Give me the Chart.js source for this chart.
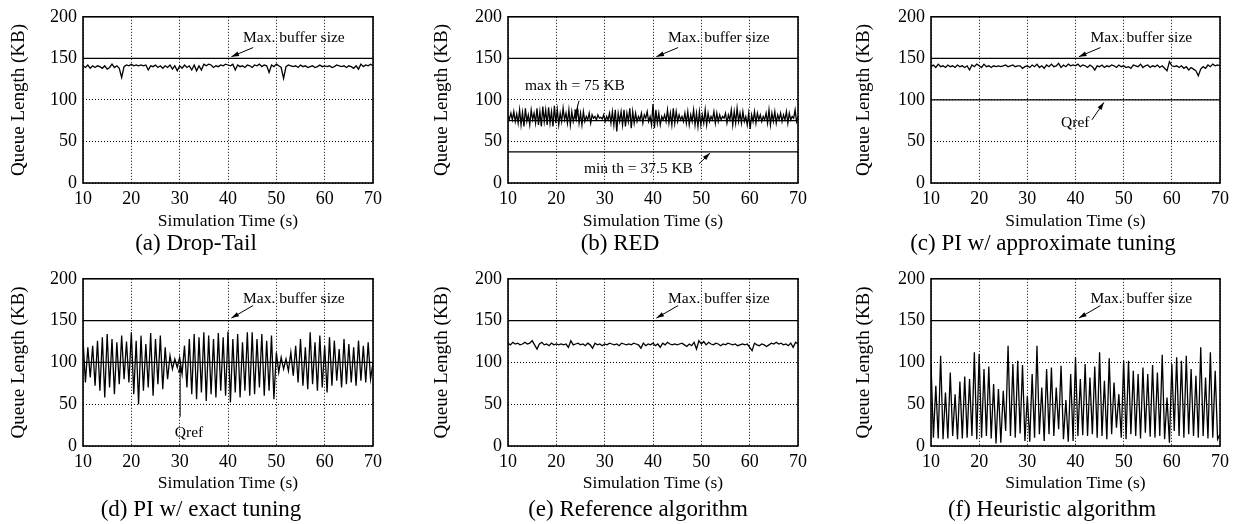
<!DOCTYPE html>
<html>
<head>
<meta charset="utf-8">
<script src="https://cdn.jsdelivr.net/npm/chart.js@4.4.1/dist/chart.umd.min.js"></script>
<style>
  html, body { margin: 0; padding: 0; background: #fff; }
  #fig { position: relative; width: 1237px; height: 524px; overflow: hidden; background: #fff; }
  #fig canvas { position: absolute; }
  .caption {
    position: absolute; transform: translate(-50%, -50%); white-space: nowrap;
    font-family: "Liberation Serif", "Times New Roman", serif; font-size: 23px; color: #000;
  }
</style>
</head>
<body>
<div id="fig"></div>
<script>
// Queue length over simulation time for six queue management schemes.
const TIME_START = 10;
const TIME_END = 70;
const STEP = 0.5;      // sample spacing (s) for most traces
const RED_STEP = 0.3;  // RED trace is sampled more finely

const X_TICKS = [10, 20, 30, 40, 50, 60, 70];
const Y_TICKS = [0, 50, 100, 150, 200];

const MAX_BUFFER = 150;
const QREF = 100;
const MAX_TH = 75;
const MIN_TH = 37.5;

// (a) Drop-Tail, KB
const dropTailQueue = [
  141, 139, 142, 138, 141, 139, 141, 140, 138, 141,
  137, 139, 143, 139, 141, 138, 127, 140, 142, 141,
  143, 141, 142, 141, 142, 141, 142, 136, 141, 140,
  142, 139, 141, 138, 141, 139, 142, 137, 141, 135,
  141, 138, 142, 139, 141, 136, 142, 135, 141, 136,
  143, 141, 143, 142, 139, 141, 140, 142, 141, 143,
  142, 141, 143, 136, 142, 140, 141, 139, 142, 141,
  139, 142, 141, 143, 140, 142, 141, 133, 142, 140,
  143, 141, 139, 126, 140, 142, 141, 140, 141, 139,
  142, 140, 141, 139, 140, 141, 139, 140, 142, 140,
  141, 140, 141, 139, 140, 142, 141, 140, 141, 139,
  141, 140, 138, 141, 137, 143, 140, 142, 141, 143,
  141
];

// (b) RED, KB
const redQueue = [
  80, 77, 84, 76, 86, 74, 83, 72, 88, 70,
  85, 68, 90, 74, 82, 70, 88, 76, 84, 72,
  90, 70, 86, 68, 92, 74, 88, 70, 91, 72,
  86, 68, 93, 72, 88, 70, 84, 74, 90, 76,
  84, 72, 88, 70, 86, 74, 82, 76, 89, 72,
  84, 70, 86, 74, 80, 76, 84, 72, 82, 78,
  80, 76, 82, 78, 79, 77, 82, 74, 80, 76,
  84, 72, 86, 70, 88, 62, 84, 74, 86, 70,
  88, 68, 84, 74, 90, 66, 86, 72, 84, 74,
  80, 76, 84, 72, 82, 78, 86, 74, 80, 70,
  95, 66, 88, 72, 84, 70, 80, 76, 82, 74,
  88, 72, 84, 70, 90, 72, 86, 74, 82, 76,
  80, 74, 84, 72, 86, 70, 82, 74, 88, 70,
  84, 68, 86, 70, 82, 72, 88, 70, 84, 74,
  80, 76, 86, 72, 84, 74, 82, 76, 80, 78,
  84, 72, 82, 76, 88, 70, 86, 72, 90, 74,
  84, 72, 86, 74, 80, 70, 84, 65, 82, 74,
  86, 72, 84, 76, 82, 74, 80, 76, 84, 72,
  88, 70, 84, 74, 86, 72, 82, 76, 84, 74,
  82, 76, 86, 72, 84, 76, 80, 78, 88, 74,
  80
];

// (c) PI with approximate tuning, KB
const piApproxQueue = [
  140, 142, 139, 143, 140, 141, 139, 142, 140, 141,
  139, 142, 140, 141, 139, 141, 136, 142, 140, 143,
  141, 139, 143, 140, 141, 139, 141, 140, 141, 140,
  141, 142, 140, 141, 142, 140, 141, 141, 138, 140,
  141, 139, 142, 140, 143, 139, 141, 138, 142, 140,
  143, 140, 141, 144, 139, 142, 140, 143, 141, 142,
  141, 143, 140, 142, 141, 139, 142, 140, 136, 141,
  140, 142, 139, 141, 140, 142, 141, 139, 142, 140,
  141, 139, 140, 138, 142, 141, 140, 143, 139, 141,
  142, 139, 141, 140, 142, 139, 141, 138, 135, 146,
  141, 140, 141, 139, 141, 138, 140, 136, 139, 137,
  135, 129, 137, 140, 138, 142, 140, 143, 141, 142,
  141
];

// (d) PI with exact tuning, KB
const piExactQueue = [
  128, 76, 118, 82, 120, 72, 126, 66, 130, 58,
  134, 70, 128, 62, 124, 74, 132, 80, 125, 76,
  136, 62, 126, 50, 132, 66, 122, 70, 135, 60,
  128, 74, 132, 68, 118, 80, 108, 92, 104, 94,
  106, 86, 120, 70, 128, 62, 134, 56, 130, 64,
  136, 54, 132, 62, 128, 58, 135, 66, 130, 60,
  137, 52, 128, 64, 134, 58, 124, 66, 136, 60,
  136, 62, 128, 70, 134, 60, 126, 66, 132, 56,
  112, 88, 106, 92, 104, 90, 112, 84, 120, 76,
  128, 72, 118, 68, 136, 74, 124, 66, 132, 70,
  120, 64, 130, 72, 126, 78, 116, 70, 128, 74,
  122, 76, 118, 72, 126, 78, 120, 76, 124, 80,
  100
];

// (e) Reference algorithm, KB
const referenceQueue = [
  123, 121, 124, 122, 123, 121, 122, 124, 122, 123,
  126, 121, 116, 122, 124, 121, 122, 120, 123, 121,
  122, 121, 122, 121, 122, 118, 126, 121, 122, 123,
  121, 122, 120, 123, 121, 117, 123, 121, 122, 120,
  122, 121, 123, 122, 121, 122, 120, 123, 122, 121,
  122, 121, 123, 122, 121, 117, 123, 120, 122, 121,
  123, 120, 122, 118, 123, 121, 124, 122, 121, 122,
  121, 122, 123, 121, 119, 122, 120, 124, 116, 126,
  122, 125, 121, 124, 122, 121, 123, 122, 120, 122,
  121, 123, 122, 121, 122, 120, 121, 122, 121, 122,
  118, 114, 123, 121, 120, 122, 121, 119, 121, 123,
  122, 124, 122, 123, 121, 122, 120, 123, 118, 124,
  122
];

// (f) Heuristic algorithm, KB
const heuristicQueue = [
  99, 10, 72, 9, 108, 8, 64, 9, 88, 12,
  62, 8, 77, 9, 83, 10, 80, 12, 112, 8,
  110, 10, 92, 12, 95, 9, 74, 3, 68, 4,
  66, 18, 120, 12, 98, 10, 102, 15, 97, 6,
  60, 5, 86, 10, 120, 14, 70, 6, 92, 14,
  94, 12, 70, 20, 96, 8, 55, 5, 86, 6,
  106, 12, 80, 13, 98, 12, 82, 14, 95, 10,
  112, 12, 78, 8, 105, 14, 76, 22, 62, 10,
  102, 8, 102, 14, 90, 12, 86, 9, 94, 16,
  86, 11, 97, 10, 88, 12, 109, 8, 58, 4,
  98, 18, 106, 12, 102, 10, 108, 14, 92, 12,
  84, 10, 118, 12, 82, 9, 112, 10, 90, 8,
  14
];

const SERIF = '"Liberation Serif", "Times New Roman", serif';
const INK = "#000";
const TICK_SIZE = 18;
const X_TITLE_SIZE = 17.5;
const Y_TITLE_SIZE = 19;
const NOTE_SIZE = 15.5;
const X_TITLE = "Simulation Time (s)";
const Y_TITLE = "Queue Length (KB)";
const CELL_H = 262;

function trace(values, step) {
  return values.map((v, i) => ({ x: TIME_START + i * step, y: v }));
}

function level(v) {
  return [{ x: TIME_START, y: v }, { x: TIME_END, y: v }];
}

const maxNote = { text: "Max. buffer size", x: 43.1, y: 175 };
const maxArrow = { from: [45.2, 163], to: [40.7, 152] };

// plot: [left, top, right, bottom] of the framed area, page px
const panels = [
  {
    cell: [0, 0, 412], plot: [83, 10, 373, 183], yTitleX: 19, xTitleY: 221,
    caption: "(a) Drop-Tail", capX: 196, capY: 243,
    traces: [trace(dropTailQueue, STEP)], levels: [MAX_BUFFER],
    labels: [maxNote], arrows: [maxArrow],
  },
  {
    cell: [412, 0, 412], plot: [508, 10, 798, 183], yTitleX: 442, xTitleY: 221,
    caption: "(b) RED", capX: 620, capY: 243,
    traces: [trace(redQueue, RED_STEP)], levels: [MAX_BUFFER, MAX_TH, MIN_TH],
    labels: [maxNote, { text: "max th = 75 KB", x: 13.5, y: 116.8 }, { text: "min th = 37.5 KB", x: 25.7, y: 17.3 }],
    arrows: [maxArrow, { from: [24.7, 99], to: [23.8, 79] }, { from: [49.5, 23], to: [51.8, 36] }],
  },
  {
    cell: [824, 0, 413], plot: [931, 10, 1220, 183], yTitleX: 864, xTitleY: 221,
    caption: "(c) PI w/ approximate tuning", capX: 1043, capY: 243,
    traces: [trace(piApproxQueue, STEP)], levels: [MAX_BUFFER, QREF],
    labels: [maxNote, { text: "Qref", x: 37.0, y: 72.8 }],
    arrows: [maxArrow, { from: [43.4, 76], to: [45.9, 97] }],
  },
  {
    cell: [0, 262, 412], plot: [83, 275, 373, 446], yTitleX: 19, xTitleY: 483,
    caption: "(d) PI w/ exact tuning", capX: 201, capY: 509,
    traces: [trace(piExactQueue, STEP)], levels: [MAX_BUFFER, QREF],
    labels: [{ ...maxNote, y: 176.5 }, { text: "Qref", x: 29.0, y: 15.2 }],
    arrows: [{ from: [45.2, 168], to: [40.7, 153] }, { from: [30.1, 35], to: [30.1, 97] }],
  },
  {
    cell: [412, 262, 412], plot: [508, 275, 798, 446], yTitleX: 442, xTitleY: 483,
    caption: "(e) Reference algorithm", capX: 638, capY: 509,
    traces: [trace(referenceQueue, STEP)], levels: [MAX_BUFFER],
    labels: [{ ...maxNote, y: 176.5 }], arrows: [{ from: [45.2, 168], to: [40.7, 153] }],
  },
  {
    cell: [824, 262, 413], plot: [931, 275, 1220, 446], yTitleX: 864, xTitleY: 483,
    caption: "(f) Heuristic algorithm", capX: 1052, capY: 509,
    traces: [trace(heuristicQueue, STEP)], levels: [MAX_BUFFER],
    labels: [{ ...maxNote, y: 176.5 }], arrows: [{ from: [45.2, 168], to: [40.7, 153] }],
  },
];

/** Labels, arrows and the plot frame, placed through the chart's own scales. */
const notes = {
  id: "notes",
  afterDatasetsDraw(chart, _args, opts) {
    const { ctx, chartArea } = chart;
    const { x, y } = chart.scales;
    ctx.save();
    ctx.fillStyle = INK;
    ctx.strokeStyle = INK;
    ctx.font = `${NOTE_SIZE}px ${SERIF}`;
    ctx.textAlign = "left";
    ctx.textBaseline = "middle";
    for (const t of opts.labels || []) {
      ctx.fillText(t.text, x.getPixelForValue(t.x), y.getPixelForValue(t.y));
    }
    ctx.lineWidth = 1;
    for (const a of opts.arrows || []) {
      const x0 = x.getPixelForValue(a.from[0]), y0 = y.getPixelForValue(a.from[1]);
      const x1 = x.getPixelForValue(a.to[0]), y1 = y.getPixelForValue(a.to[1]);
      const ang = Math.atan2(y1 - y0, x1 - x0);
      ctx.beginPath();
      ctx.moveTo(x0, y0);
      ctx.lineTo(x1, y1);
      ctx.stroke();
      const len = 8, half = 0.3;
      ctx.beginPath();
      ctx.moveTo(x1, y1);
      ctx.lineTo(x1 - len * Math.cos(ang - half), y1 - len * Math.sin(ang - half));
      ctx.lineTo(x1 - len * Math.cos(ang + half), y1 - len * Math.sin(ang + half));
      ctx.closePath();
      ctx.fill();
    }
    const { left, top, right, bottom } = chartArea;
    ctx.lineWidth = 1.6;
    ctx.strokeRect(left, top, right - left, bottom - top);
    ctx.restore();
  },
};

const fig = document.getElementById("fig");

for (const p of panels) {
  const [cellX, cellY, cellW] = p.cell;
  const [pl, pt, pr, pb] = p.plot;
  const padLeft = p.yTitleX - cellX - (Y_TITLE_SIZE * 1.2) / 2;
  const yWidth = pl - cellX - padLeft;
  const xHeight = p.xTitleY - pb + (X_TITLE_SIZE * 1.2) / 2;
  const padding = {
    left: padLeft,
    top: pt - cellY,
    right: cellX + cellW - pr,
    bottom: cellY + CELL_H - pb - xHeight,
  };

  const canvas = document.createElement("canvas");
  canvas.width = cellW;
  canvas.height = CELL_H;
  canvas.style.left = cellX + "px";
  canvas.style.top = cellY + "px";
  fig.appendChild(canvas);

  const cap = document.createElement("div");
  cap.className = "caption";
  cap.textContent = p.caption;
  cap.style.left = p.capX + "px";
  cap.style.top = p.capY + "px";
  fig.appendChild(cap);

  const tickFont = { family: SERIF, size: TICK_SIZE };

  const datasets = [
    ...p.levels.map((v) => ({ data: level(v), borderWidth: 1.3 })),
    ...p.traces.map((d) => ({ data: d, borderWidth: 1.3 })),
  ].map((d) => ({ ...d, borderColor: INK, pointRadius: 0, tension: 0, fill: false }));

  new Chart(canvas, {
    type: "line",
    data: { datasets },
    options: {
      responsive: false,
      animation: false,
      devicePixelRatio: 1,
      layout: { padding, autoPadding: false },
      plugins: {
        legend: { display: false },
        tooltip: { enabled: false },
        notes: { labels: p.labels, arrows: p.arrows },
      },
      scales: {
        x: {
          type: "linear",
          min: TIME_START,
          max: TIME_END,
          afterBuildTicks: (s) => { s.ticks = X_TICKS.map((v) => ({ value: v })); },
          ticks: { font: tickFont, color: INK, padding: 5, maxRotation: 0 },
          grid: { color: INK, lineWidth: 1, drawTicks: false },
          border: { display: false, dash: [1, 2] },
          title: { display: true, text: X_TITLE, font: { family: SERIF, size: X_TITLE_SIZE }, color: INK, padding: 0 },
          afterFit: (s) => { s.height = xHeight; },
        },
        y: {
          type: "linear",
          min: Y_TICKS[0],
          max: Y_TICKS[Y_TICKS.length - 1],
          afterBuildTicks: (s) => { s.ticks = Y_TICKS.map((v) => ({ value: v })); },
          ticks: { font: tickFont, color: INK, padding: 6 },
          grid: { color: INK, lineWidth: 1, drawTicks: false },
          border: { display: false, dash: [1, 2] },
          title: { display: true, text: Y_TITLE, font: { family: SERIF, size: Y_TITLE_SIZE }, color: INK, padding: 0 },
          afterFit: (s) => { s.width = yWidth; },
        },
      },
    },
    plugins: [notes],
  });
}
</script>
</body>
</html>
